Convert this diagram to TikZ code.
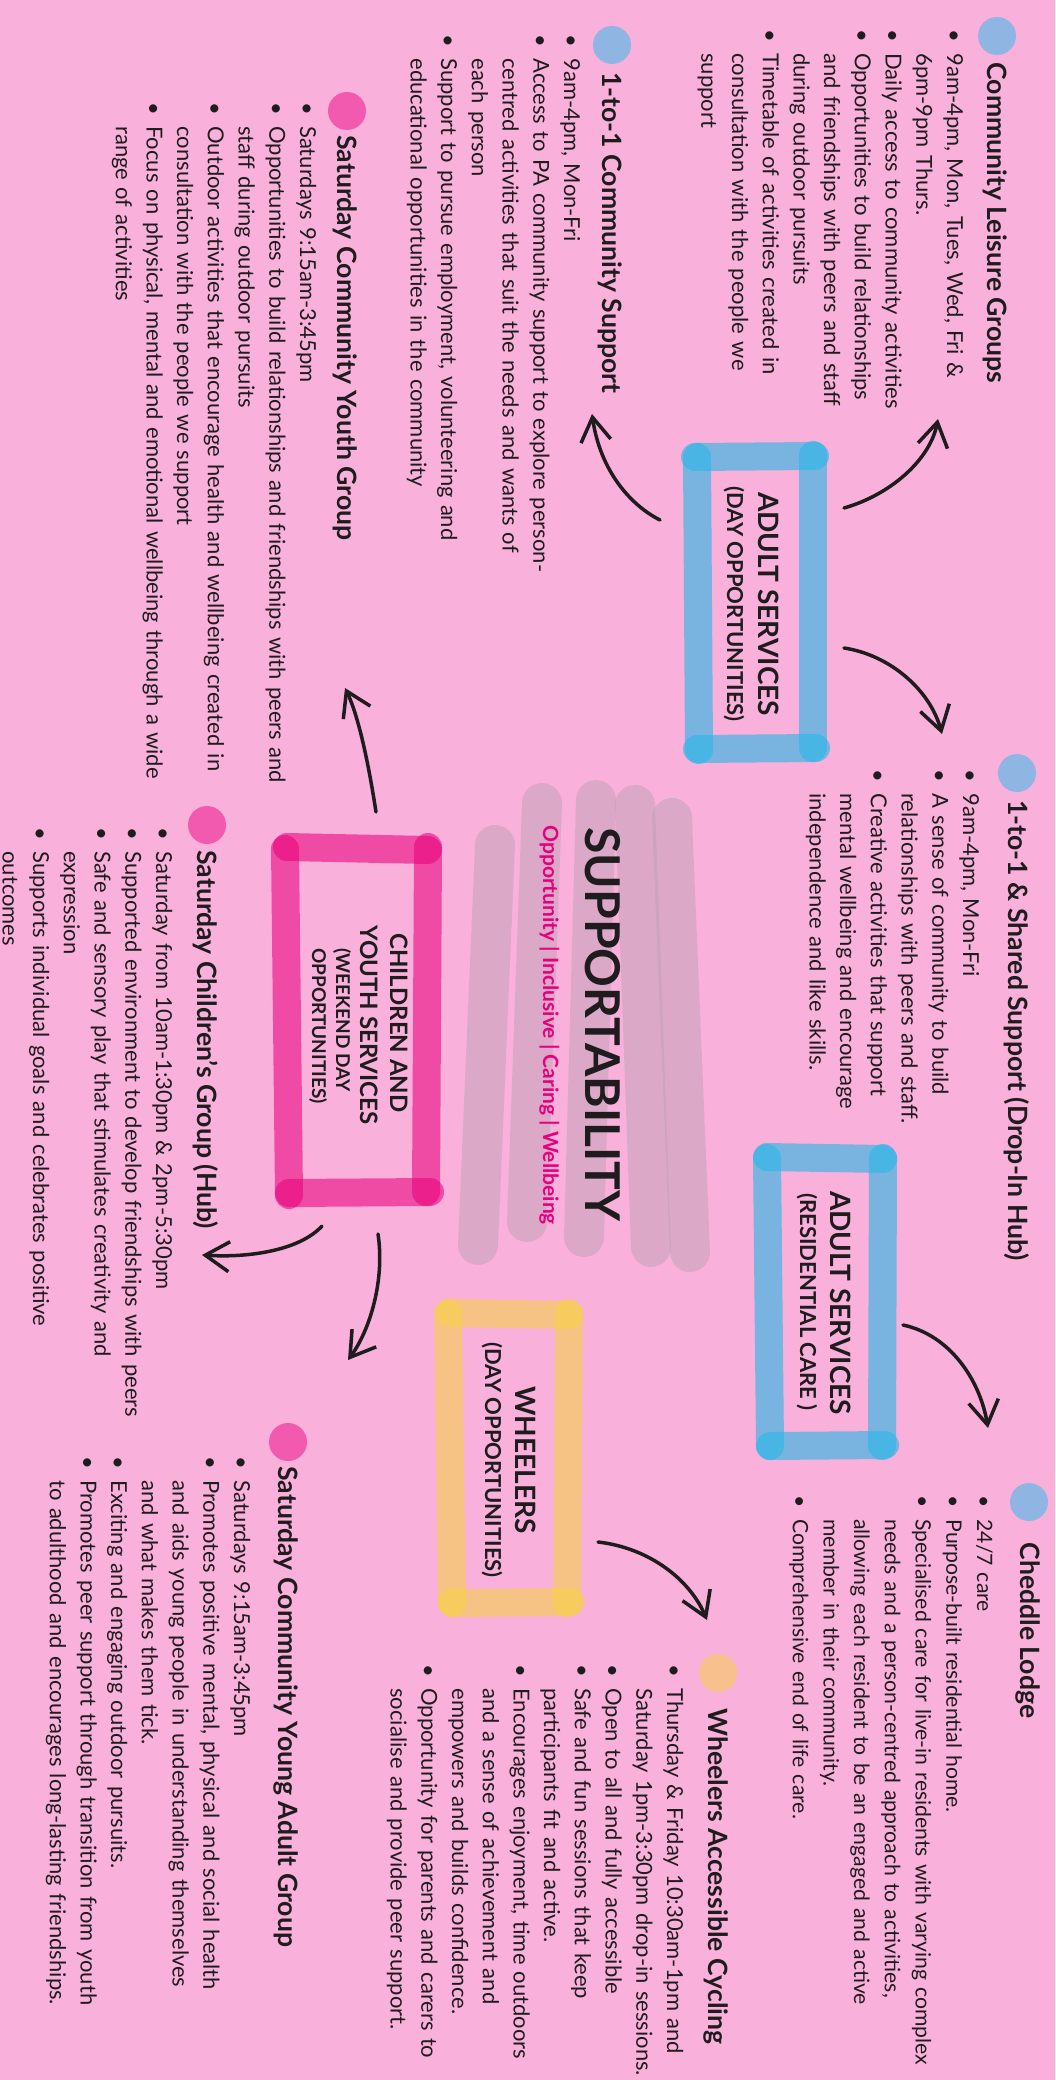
\documentclass[tikz,border=0pt]{standalone}
\usepackage{fontspec}
\setmainfont{Lato}
\usetikzlibrary{arrows.meta}
\setlength{\parindent}{0pt}

\definecolor{bgpink}{RGB}{249,176,219}
\definecolor{inkblack}{RGB}{30,28,30}
\definecolor{dotblue}{RGB}{143,182,226}
\definecolor{dotpink}{RGB}{242,90,176}
\definecolor{dotpeach}{RGB}{248,192,140}
\definecolor{brushblue}{RGB}{41,183,230}
\definecolor{brushpink}{RGB}{233,0,124}
\definecolor{brushyellow}{RGB}{247,210,64}
\definecolor{brushgrey}{RGB}{185,160,178}
\definecolor{tagmagenta}{RGB}{229,0,126}

\newlength{\bulw}
\setlength{\bulw}{12pt}
\newcommand{\bitem}{\makebox[\bulw][l]{\textbullet}}
\newcommand{\bcont}{\hspace*{\bulw}}

\tikzset{
  headtxt/.style={anchor=base west, inner sep=0pt, rotate=-90, text=inkblack, font=\fontsize{13.3}{16}\selectfont\bfseries},
  bodytxt/.style={anchor=base west, inner sep=0pt, rotate=-90, text=inkblack, text width=420pt, align=left, font=\fontsize{11}{15.35}\selectfont},
  boxlbl/.style={anchor=base, inner sep=0pt, rotate=-90, text=inkblack},
  brush/.style={line width=14pt, line cap=round},
  brushB/.style={brush, draw=brushblue, draw opacity=0.61},
  brushP/.style={brush, draw=brushpink, draw opacity=0.57},
  brushY/.style={brush, draw=brushyellow, draw opacity=0.56},
  brushG/.style={line width=20pt, line cap=round, draw=brushgrey, draw opacity=0.45},
  handarrow/.style={draw=inkblack, line width=1.75pt, line cap=round, -{Straight Barb[length=12pt,width=15pt]}},
}

\begin{document}
\begin{tikzpicture}[x=0.5pt,y=0.5pt,yscale=-1,xscale=1]
  %Shape: Rectangle
  \fill[bgpink] (0,0) rectangle (1055,2080);
  \useasboundingbox (0,0) rectangle (1055,2080);

  %Straight Lines (grey scribble behind the title)
  \draw[brushG] (495,845) -- (478,1245);
  \draw[brushG] (542,803) -- (527,1222);
  \draw[brushG] (596,800) -- (584,1237);
  \draw[brushG] (635,805) -- (651,1247);
  \draw[brushG] (672,818) -- (690,1252);

  %Shape: brush box, adult services (day opportunities)
  \draw[brushB] (697,457) -- (699,750);
  \draw[brushB] (813,455) -- (813,748);
  \draw[brushB] (695,457) -- (815,456);
  \draw[brushB] (697,749) -- (816,748);
  %Shape: brush box, children and youth services
  \draw[brushP] (285,849) -- (289,1195);
  \draw[brushP] (428,847) -- (426,1192);
  \draw[brushP] (287,847) -- (428,850);
  \draw[brushP] (289,1193) -- (430,1192);
  %Shape: brush box, adult services (residential care)
  \draw[brushB] (767,1158) -- (770,1446);
  \draw[brushB] (883,1158) -- (882,1446);
  \draw[brushB] (767,1157) -- (883,1159);
  \draw[brushB] (770,1446) -- (885,1445);
  %Shape: brush box, wheelers
  \draw[brushY] (448,1313) -- (452,1603);
  \draw[brushY] (569,1313) -- (567,1603);
  \draw[brushY] (450,1313) -- (569,1315);
  \draw[brushY] (452,1603) -- (571,1602);

  %Shape: Circle
  \fill[dotblue] (997,36) circle (19);
  \fill[dotblue] (612,45) circle (19);
  \fill[dotpink] (347,111) circle (19);
  \fill[dotblue] (1017,773) circle (19);
  \fill[dotpink] (207,825) circle (19);
  \fill[dotblue] (1029,1502) circle (19);
  \fill[dotpeach] (718,1673) circle (19);
  \fill[dotpink] (288,1442) circle (19);

  % Text Node
  \node[anchor=base west, inner sep=0pt, rotate=-90, text=inkblack, font=\fontsize{24}{28}\selectfont\bfseries] (brand) at (585,827) {SUPPORTABILITY};
  % Text Node
  \node[anchor=base west, inner sep=0pt, rotate=-90, text=tagmagenta, font=\fontsize{10.5}{13}\selectfont\bfseries] (values) at (543,825) {Opportunity | Inclusive | Caring | Wellbeing};

  % Text Node
  \node[boxlbl, font=\fontsize{14}{16}\selectfont\bfseries] (dayA) at (758,604) {ADULT SERVICES};
  \node[boxlbl, font=\fontsize{11}{13}\selectfont\bfseries] (dayB) at (727,604) {(DAY OPPORTUNITIES)};
  % Text Node
  \node[boxlbl, font=\fontsize{12}{14}\selectfont\bfseries] (kidsA) at (390,1023) {CHILDREN AND};
  \node[boxlbl, font=\fontsize{12}{14}\selectfont\bfseries] (kidsB) at (360,1025) {YOUTH SERVICES};
  \node[boxlbl, font=\fontsize{9.5}{11}\selectfont\bfseries] (kidsC) at (336,1020) {(WEEKEND DAY};
  \node[boxlbl, font=\fontsize{9.5}{11}\selectfont\bfseries] (kidsD) at (312,1026) {OPPORTUNITIES)};
  % Text Node
  \node[boxlbl, font=\fontsize{14}{16}\selectfont\bfseries] (resA) at (830,1303) {ADULT SERVICES};
  \node[boxlbl, font=\fontsize{11}{13}\selectfont\bfseries] (resB) at (800,1302) {(RESIDENTIAL CARE )};
  % Text Node
  \node[boxlbl, font=\fontsize{14}{16}\selectfont\bfseries] (wheelA) at (515,1460) {WHEELERS};
  \node[boxlbl, font=\fontsize{11}{13}\selectfont\bfseries] (wheelB) at (485,1460) {(DAY OPPORTUNITIES)};

  % Text Node
  \node[headtxt] (hLeisure) at (987,62) {Community Leisure Groups};
  \node[bodytxt] (bLeisure) at (947,29) {\bitem 9am-4pm, Mon, Tues, Wed, Fri \&\\
    \bcont 6pm-9pm Thurs.\\
    \bitem Daily access to community activities\\
    \bitem Opportunities to build relationships\\
    \bcont and friendships with peers and staff\\
    \bcont during outdoor pursuits\\
    \bitem Timetable of activities created in\\
    \bcont consultation with the people we\\
    \bcont support};
  % Text Node
  \node[headtxt] (hOneCom) at (602,72) {1-to-1 Community Support};
  \node[bodytxt] (bOneCom) at (564,34) {\bitem 9am-4pm, Mon-Fri\\
    \bitem Access to PA community support to explore person-\\
    \bcont centred activities that suit the needs and wants of\\
    \bcont each person\\
    \bitem Support to pursue employment, volunteering and\\
    \bcont educational opportunities in the community};
  % Text Node
  \node[headtxt] (hYouth) at (337,135) {Saturday Community Youth Group};
  \node[bodytxt] (bYouth) at (300,102) {\bitem Saturdays 9:15am-3:45pm\\
    \bitem Opportunities to build relationships and friendships with peers and\\
    \bcont staff during outdoor pursuits\\
    \bitem Outdoor activities that encourage health and wellbeing created in\\
    \bcont consultation with the people we support\\
    \bitem Focus on physical, mental and emotional wellbeing through a wide\\
    \bcont range of activities};
  % Text Node
  \node[headtxt] (hHub) at (1008,800) {1-to-1 \& Shared Support (Drop-In Hub)};
  \node[bodytxt] (bHub) at (963,769) {\bitem 9am-4pm, Mon-Fri\\
    \bitem A sense of community to build\\
    \bcont relationships with peers and staff.\\
    \bitem Creative activities that support\\
    \bcont mental wellbeing and encourage\\
    \bcont independence and like skills.};
  % Text Node
  \node[headtxt] (hKids) at (197,850) {Saturday Children's Group (Hub)};
  \node[bodytxt] (bKids) at (156,827) {\bitem Saturday from 10am-1:30pm \& 2pm-5:30pm\\
    \bitem Supported environment to develop friendships with peers\\
    \bitem Safe and sensory play that stimulates creativity and\\
    \bcont expression\\
    \bitem Supports individual goals and celebrates positive\\
    \bcont outcomes};
  % Text Node
  \node[headtxt] (hLodge) at (1020,1542) {Cheddle Lodge};
  \node[bodytxt, font=\fontsize{10.6}{15.35}\selectfont] (bLodge) at (977,1495) {\bitem 24/7 care\\
    \bitem Purpose-built residential home.\\
    \bitem Specialised care for live-in residents with varying complex\\
    \bcont needs and a person-centred approach to activities,\\
    \bcont allowing each resident to be an engaged and active\\
    \bcont member in their community.\\
    \bitem Comprehensive end of life care.};
  % Text Node
  \node[headtxt] (hCycle) at (708,1708) {Wheelers Accessible Cycling};
  \node[bodytxt] (bCycle) at (667,1664) {\bitem Thursday \& Friday 10:30am-1pm and\\
    \bcont Saturday 1pm-3:30pm drop-in sessions.\\
    \bitem Open to all and fully accessible\\
    \bitem Safe and fun sessions that keep\\
    \bcont participants fit and active.\\
    \bitem Encourages enjoyment, time outdoors\\
    \bcont and a sense of achievement and\\
    \bcont empowers and builds confidence.\\
    \bitem Opportunity for parents and carers to\\
    \bcont socialise and provide peer support.};
  % Text Node
  \node[headtxt] (hYoung) at (278,1466) {Saturday Community Young Adult Group};
  \node[bodytxt] (bYoung) at (234,1456) {\bitem Saturdays 9:15am-3:45pm\\
    \bitem Promotes positive mental, physical and social health\\
    \bcont and aids young people in understanding themselves\\
    \bcont and what makes them tick.\\
    \bitem Exciting and engaging outdoor pursuits.\\
    \bitem Promotes peer support through transition from youth\\
    \bcont to adulthood and encourages long-lasting friendships.};

  %Curve Lines
  \coordinate (dayNE) at (844,508);   \coordinate (toLeisure) at (938,419);
  \coordinate (dayNW) at (660,520);   \coordinate (toOneCom) at (592,414);
  \coordinate (daySE) at (844,648);   \coordinate (toHub) at (942,734);
  \coordinate (kidsN) at (376,812);   \coordinate (toYouth) at (345,688);
  \coordinate (kidsSW) at (322,1226); \coordinate (toKids) at (202,1255);
  \coordinate (kidsS) at (378,1234);  \coordinate (toYoung) at (348,1360);
  \coordinate (resSE) at (903,1325);  \coordinate (toLodge) at (988,1428);
  \coordinate (wheelSE) at (598,1542); \coordinate (toCycle) at (707,1620);
  \draw[handarrow] (dayNE) .. controls (890,495) and (930,460) .. (toLeisure);
  \draw[handarrow] (dayNW) .. controls (630,505) and (600,470) .. (toOneCom);
  \draw[handarrow] (daySE) .. controls (890,655) and (930,690) .. (toHub);
  \draw[handarrow] (kidsN) .. controls (368,760) and (358,715) .. (toYouth);
  \draw[handarrow] (kidsSW) .. controls (300,1250) and (250,1258) .. (toKids);
  \draw[handarrow] (kidsS) .. controls (385,1280) and (370,1330) .. (toYoung);
  \draw[handarrow] (resSE) .. controls (950,1335) and (980,1380) .. (toLodge);
  \draw[handarrow] (wheelSE) .. controls (650,1548) and (690,1580) .. (toCycle);
\end{tikzpicture}
\end{document}
